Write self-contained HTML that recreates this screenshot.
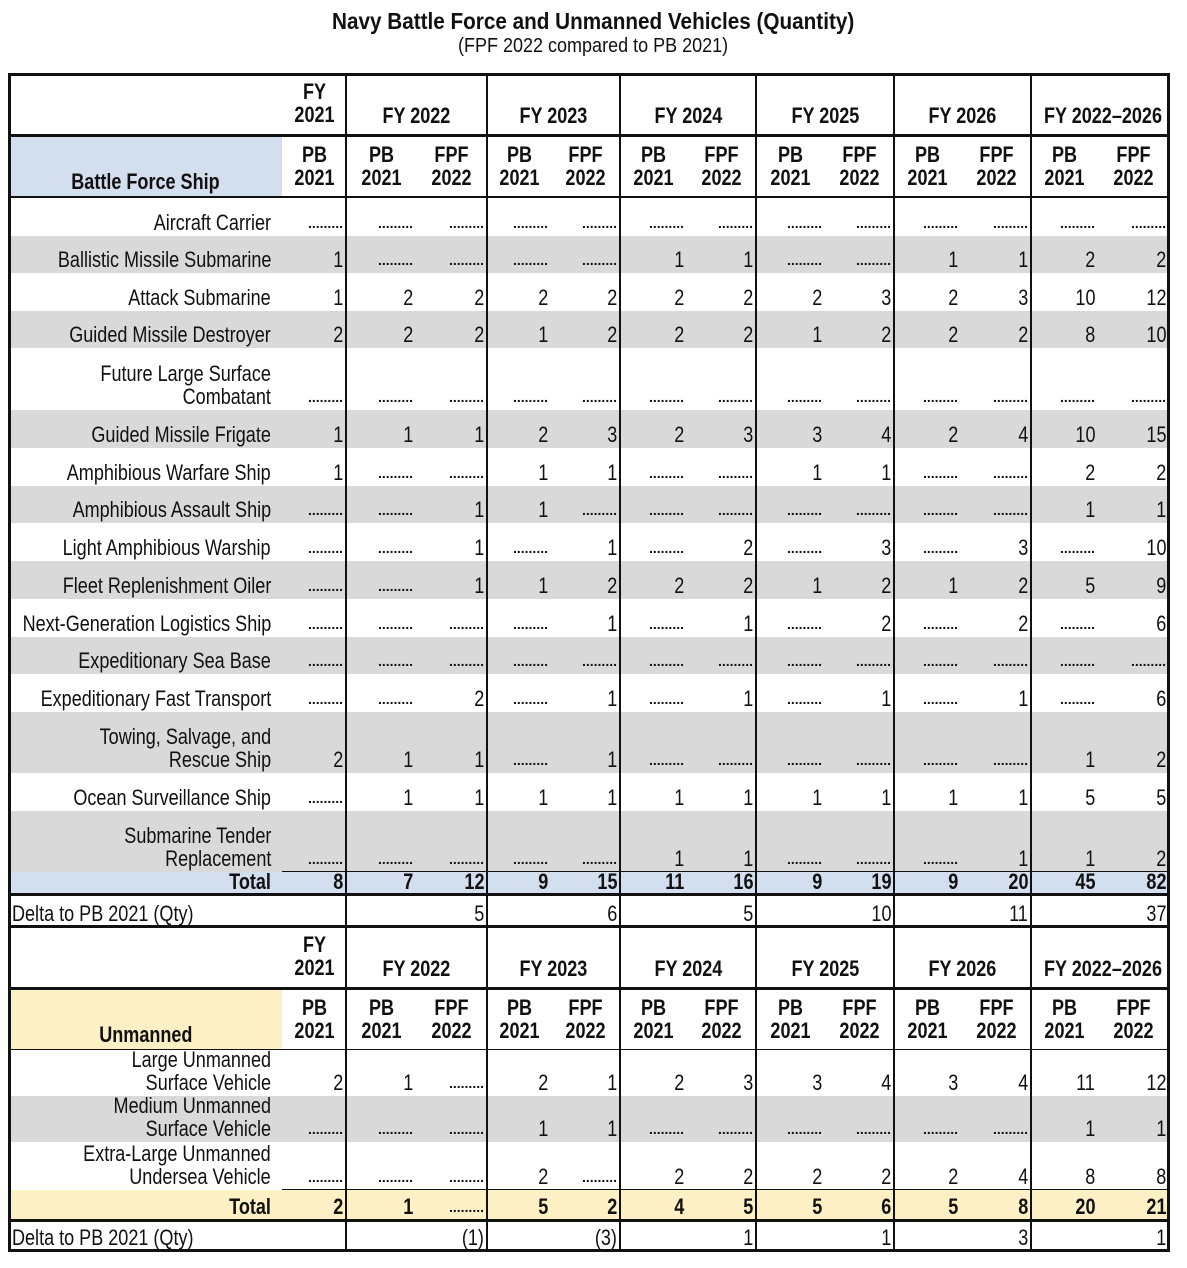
<!DOCTYPE html>
<html><head><meta charset="utf-8"><style>
body{margin:0;background:#fff;width:1187px;height:1268px;position:relative;overflow:hidden;font-family:"Liberation Sans",sans-serif;color:#111}
.a{position:absolute;box-sizing:border-box}
.t{font-size:22px;white-space:nowrap}
.h{font-weight:bold;text-align:center;line-height:23px}
.l{position:absolute;background:#111}
.s{display:inline-block;transform:scaleX(.82)}
</style></head><body>
<div class="a t" style="left:0;width:1187px;top:8px;text-align:center;font-weight:bold;font-size:23px"><span class="s" style="transform:scaleX(.9)">Navy Battle Force and Unmanned Vehicles (Quantity)</span></div>
<div class="a t" style="left:0;width:1187px;top:35px;text-align:center;font-size:20px"><span class="s" style="transform:scaleX(.9)">(FPF 2022 compared to PB 2021)</span></div>
<div id="tbl"></div>
<script>
const D=null;
const groups=["FY 2022","FY 2023","FY 2024","FY 2025","FY 2026","FY 2022–2026"];
const shipLabels=["Aircraft Carrier","Ballistic Missile Submarine","Attack Submarine","Guided Missile Destroyer","Future Large Surface<br>Combatant","Guided Missile Frigate","Amphibious Warfare Ship","Amphibious Assault Ship","Light Amphibious Warship","Fleet Replenishment Oiler","Next-Generation Logistics Ship","Expeditionary Sea Base","Expeditionary Fast Transport","Towing, Salvage, and<br>Rescue Ship","Ocean Surveillance Ship","Submarine Tender<br>Replacement"];
const shipVals=[
[D,D,D,D,D,D,D,D,D,D,D,D,D],
[1,D,D,D,D,1,1,D,D,1,1,2,2],
[1,2,2,2,2,2,2,2,3,2,3,10,12],
[2,2,2,1,2,2,2,1,2,2,2,8,10],
[D,D,D,D,D,D,D,D,D,D,D,D,D],
[1,1,1,2,3,2,3,3,4,2,4,10,15],
[1,D,D,1,1,D,D,1,1,D,D,2,2],
[D,D,1,1,D,D,D,D,D,D,D,1,1],
[D,D,1,D,1,D,2,D,3,D,3,D,10],
[D,D,1,1,2,2,2,1,2,1,2,5,9],
[D,D,D,D,1,D,1,D,2,D,2,D,6],
[D,D,D,D,D,D,D,D,D,D,D,D,D],
[D,D,2,D,1,D,1,D,1,D,1,D,6],
[2,1,1,D,1,D,D,D,D,D,D,1,2],
[D,1,1,1,1,1,1,1,1,1,1,5,5],
[D,D,D,D,D,1,1,D,D,D,1,1,2]];
const shipTotal=[8,7,12,9,15,11,16,9,19,9,20,45,82];
const shipDelta=["","",5,"",6,"",5,"",10,"",11,"",37];
const uLabels=["Large Unmanned<br>Surface Vehicle","Medium Unmanned<br>Surface Vehicle","Extra-Large Unmanned<br>Undersea Vehicle"];
const uVals=[
[2,1,D,2,1,2,3,3,4,3,4,11,12],
[D,D,D,1,1,D,D,D,D,D,D,1,1],
[D,D,D,2,D,2,2,2,2,2,4,8,8]];
const uTotal=[2,1,D,5,2,4,5,5,6,5,8,20,21];
const uDelta=["","","(1)","","(3)","",1,"",1,"",3,"",1];

const T=document.getElementById('tbl');
const subR=[346,416,487,551,620,687,756,825,894,961,1031,1098,1169];
const grpX=[282,346,487,620,756,894,1031,1169];
function sq(h,o){return '<span class="s" style="transform-origin:'+o+' center">'+h+'</span>';}
function div(x,y,w,h,html,cls,st,name){const d=document.createElement('div');d.className='a '+(cls||'');d.style.cssText=`left:${x}px;top:${y}px;width:${w}px;height:${h}px;`+(st||'');d.innerHTML=html;


T.appendChild(d);return d;}
function line(x,y,w,h){const d=document.createElement('div');d.className='l';d.style.cssText=`left:${x}px;top:${y}px;width:${w}px;height:${h}px`;


T.appendChild(d);}
function cellVal(v){return v===D?'<span style="font-size:14px;font-weight:bold;letter-spacing:0px">.........</span>':sq(String(v),'right');}
function header(y,label,bg){
 div(9,y,273,62,'','', '', 'header-blank');
 div(282,y+6,64,56,sq('FY<br>2021','center'),'t h','', 'header-fy2021');
 for(let g=0;g<6;g++){div(grpX[g+1],y+30,grpX[g+2]-grpX[g+1],28,sq(groups[g],'center'),'t h','', 'header-group');}
 const y2=y+62;
 div(9,y2,273,62,'<div style="position:absolute;bottom:5px;width:100%;text-align:center">'+sq(label,'center')+'</div>','t h','background:'+bg,'section-label');
 for(let i=0;i<13;i++){const R=subR[i],L=i==0?282:(i%2?grpX[(i+1)/2]:subR[i-1]);
  div(L,y2+7,R-L,56,sq((i==0||i%2)?'PB<br>2021':'FPF<br>2022','center'),'t h','', 'header-subcolumn');}
 line(9,y+60,1160,3);line(9,y2+60,1160,3);
}
function row(y,h,label,vals,bg,bold,lblAlign){
 div(9,y,1160,h,'','', 'background:'+bg,'row-bg');
 const left=lblAlign=='left';
 div(left?12:9,y,left?330:262,h,'<div style="position:absolute;bottom:2px;'+(left?'left:0;text-align:left;':'right:0;text-align:right;')+'line-height:23px;">'+sq(label,left?'left':'right')+'</div>','t','font-weight:'+(bold?'bold':'normal'),'row-label');
 for(let i=0;i<13;i++){const v=vals[i];if(v==='')continue;const R=subR[i]-3;
  div(R-70,y,70,h,'<div style="position:absolute;bottom:1px;right:0;line-height:24px">'+cellVal(v)+'</div>','t','text-align:right;font-weight:'+(bold?'bold':'normal'),'value-cell');}
}
header(74,'Battle Force Ship','#d3deef');
const rowY=[198,236,273,311,348,410,448,486,523,561,599,637,674,712,773,811,872];
for(let r=0;r<16;r++){row(rowY[r],rowY[r+1]-rowY[r],shipLabels[r],shipVals[r],r%2==1?'#d9d9d9':'#fff');}
row(872,23,'Total',shipTotal,'#d3deef',true);
row(895,32,'Delta to PB 2021 (Qty)',shipDelta,'#fff',false,'left');
line(9,893,1160,3);line(9,925,1160,3);
header(927,'Unmanned','#fdf0c4');
const uY=[1050,1096,1142,1190];
for(let r=0;r<3;r++)row(uY[r],uY[r+1]-uY[r],uLabels[r],uVals[r],r==1?'#d9d9d9':'#fff');
row(1190,30,'Total',uTotal,'#fdf0c4',true);
row(1220,31,'Delta to PB 2021 (Qty)',uDelta,'#fff',false,'left');
line(9,1219,1160,3);
line(282,1189,887,1);line(282,871,887,1);
for(let i=1;i<grpX.length-1;i++)line(grpX[i]-1,74,2,1178);
line(8,73,1162,3);line(8,1249,1162,3);line(8,73,3,1179);line(1167,73,3,1179);
</script>
</body></html>
